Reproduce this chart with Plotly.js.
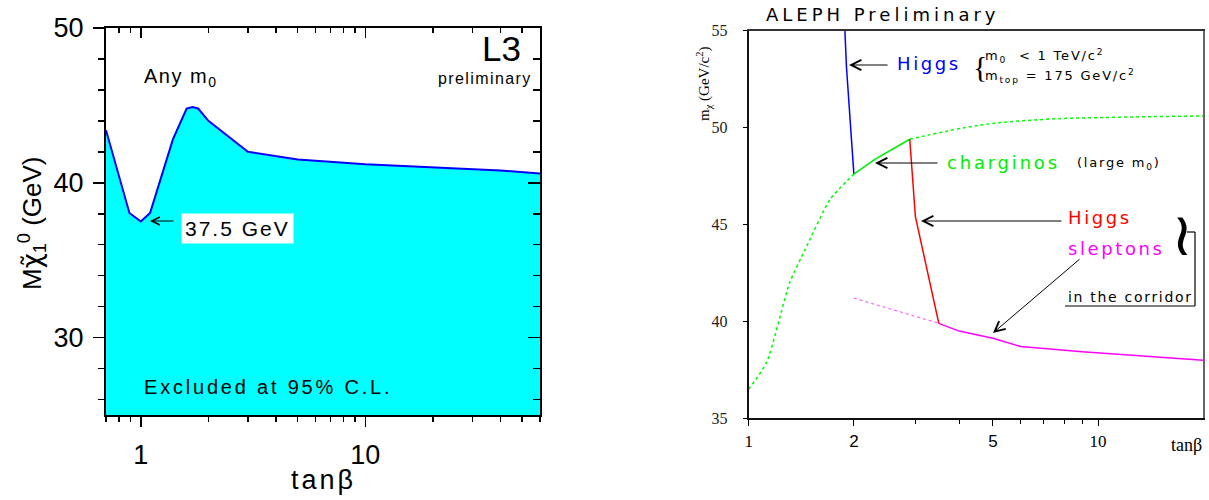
<!DOCTYPE html>
<html><head><meta charset="utf-8">
<script src="https://cdn.plot.ly/plotly-3.0.1.min.js"></script>
<style>html,body{margin:0;padding:0;background:#fff;}</style>
</head><body>
<div id="chart" style="width:1209px;height:500px"></div>
<script>
// ---------- L3 panel data ----------
const l3TanBeta = [0.7, 0.89, 1.0, 1.1, 1.39, 1.6, 1.7, 1.8, 2.0, 3.0, 5.0, 10, 40, 60];
const l3Mass    = [43.4, 38.05, 37.5, 38.05, 42.8, 44.8, 44.9, 44.8, 44.0, 42.0, 41.5, 41.2, 40.8, 40.6];

// ---------- ALEPH panel data ----------
const higgsTopTanBeta = [1.885, 1.905, 2.0];
const higgsTopMass    = [55.0, 53.1, 47.6];
const charginoLowTanBeta = [1.0, 1.126, 1.31, 1.45, 1.71, 2.0];
const charginoLowMass    = [36.5, 37.9, 42.0, 43.7, 46.3, 47.6];
const charginoMidTanBeta = [2.0, 2.29, 2.89];
const charginoMidMass    = [47.6, 48.35, 49.4];
const charginoHighTanBeta = [2.89, 4.6, 7.1, 11, 20];
const charginoHighMass    = [49.4, 50.13, 50.43, 50.53, 50.6];
const higgsCorrTanBeta = [2.89, 3.0, 3.5];
const higgsCorrMass    = [49.4, 45.4, 39.9];
const sleptonLowTanBeta = [2.0, 3.5];
const sleptonLowMass    = [41.2, 39.9];
const sleptonTanBeta = [3.5, 4.0, 5.0, 6.0, 9.0, 20];
const sleptonMass    = [39.9, 39.5, 39.13, 38.7, 38.44, 38.0];

// tick labels
const l3TickVals = [1, 10];
const l3TickText = ['1', '10'];
const l3MinorVals = [0.7, 0.8, 0.9, 2, 3, 4, 5, 6, 7, 8, 9, 20, 30, 40, 50, 60];
const alephTickVals = [1, 2, 5, 10];
const alephTickText = ['1', '<span style="font-family:Liberation Sans">2</span>', '<span style="font-family:Liberation Sans">5</span>', '10'];
const alephMinorVals = [3, 4, 6, 7, 8, 9];
const alephYTicks = [35, 40, 45, 50, 55];

const W = 1209, H = 500;
const fx = p => p / W, fy = p => 1 - p / H;
const SANS = 'Liberation Sans, Arial, sans-serif';
const SERIF = 'Liberation Serif, Times New Roman, serif';
const GEO = 'DejaVu Sans, sans-serif';
const ls = (t, s) => '<span style="letter-spacing:' + s + 'px">' + t + '</span>';

const hidden = {mode: 'lines', line: {width: 0, color: 'rgba(0,0,0,0)'}, opacity: 0, hoverinfo: 'skip'};

const traces = [
  {x: l3TanBeta, y: l3Mass, xaxis: 'x', yaxis: 'y', type: 'scatter', mode: 'lines',
   fill: 'tozeroy', fillcolor: '#00ffff', line: {color: '#0000ff', width: 2}, hoverinfo: 'skip'},
  {x: higgsTopTanBeta, y: higgsTopMass, xaxis: 'x2', yaxis: 'y2', mode: 'lines', line: {color: '#0000ff', width: 1.5}},
  {x: charginoLowTanBeta, y: charginoLowMass, xaxis: 'x2', yaxis: 'y2', mode: 'lines', line: {color: '#00ff00', width: 1.6, dash: 'dot', shape: 'spline', smoothing: 0.6}},
  {x: charginoMidTanBeta, y: charginoMidMass, xaxis: 'x2', yaxis: 'y2', mode: 'lines', line: {color: '#00ee00', width: 1.6}},
  {x: charginoHighTanBeta, y: charginoHighMass, xaxis: 'x2', yaxis: 'y2', mode: 'lines', line: {color: '#00ff00', width: 1.5, dash: '3px,3px', shape: 'spline'}},
  {x: higgsCorrTanBeta, y: higgsCorrMass, xaxis: 'x2', yaxis: 'y2', mode: 'lines', line: {color: '#ff0000', width: 1.5}},
  {x: sleptonLowTanBeta, y: sleptonLowMass, xaxis: 'x2', yaxis: 'y2', mode: 'lines', line: {color: '#ff66ff', width: 1.2, dash: 'dot'}},
  {x: sleptonTanBeta, y: sleptonMass, xaxis: 'x2', yaxis: 'y2', mode: 'lines', line: {color: '#ff00ff', width: 1.5}},
  // invisible traces so the mirror (top / right) axes get drawn
  Object.assign({x: l3TanBeta, y: l3Mass, xaxis: 'x3', yaxis: 'y'}, hidden),
  Object.assign({x: l3TanBeta, y: l3Mass, xaxis: 'x', yaxis: 'y3'}, hidden),
  Object.assign({x: sleptonTanBeta, y: sleptonMass, xaxis: 'x4', yaxis: 'y2'}, hidden),
  Object.assign({x: sleptonTanBeta, y: sleptonMass, xaxis: 'x2', yaxis: 'y4'}, hidden)
];

function txt(text, px, py, opts) {
  return Object.assign({text: text, xref: 'paper', yref: 'paper', x: fx(px), y: fy(py),
    showarrow: false, xanchor: 'left', yanchor: 'middle'}, opts || {});
}
function arrow(tipX, tipY, tailX, tailY, color, size) {
  return {text: '', xref: 'paper', yref: 'paper', x: fx(tipX), y: fy(tipY),
    ax: tailX - tipX, ay: tailY - tipY, axref: 'pixel', ayref: 'pixel',
    showarrow: true, arrowhead: 5, arrowsize: size || 2, arrowwidth: 1, arrowcolor: color || '#000', standoff: 0, startstandoff: 0};
}

const annotations = [
  // L3 panel
  txt(ls('Any m', 1.5) + '<sub>0</sub>', 142, 77, {font: {family: SANS, size: 20, color: '#000'}}),
  txt('L3', 523, 49, {xanchor: 'right', font: {family: SANS, size: 35, color: '#000'}}),
  txt(ls('preliminary', 1.4), 534, 78, {xanchor: 'right', font: {family: SANS, size: 16, color: '#000'}}),
  txt(ls('37.5 GeV', 2), 181, 229, {font: {family: SANS, size: 21, color: '#000'}, bgcolor: '#fff', borderpad: 3}),
  arrow(150, 221, 175, 221, '#000', 1.6),
  txt(ls('Excluded at 95% C.L.', 2.8), 142, 387, {font: {family: SANS, size: 20, color: '#000'}}),
  txt(ls('tanβ', 3), 324, 480, {xanchor: 'center', font: {family: SANS, size: 27, color: '#000'}}),
  txt('M<span style="font-family:DejaVu Sans">χ̃</span><sub>1</sub><sup>0</sup> (GeV)', 32, 223, {xanchor: 'center', textangle: -90, font: {family: SANS, size: 26, color: '#000'}}),
  // ALEPH panel
  txt(ls('ALEPH Preliminary', 4), 764, 14, {font: {family: GEO, size: 18, color: '#000'}}),
  txt('m<sub>χ</sub> (GeV/c<sup>2</sup>)', 704, 84, {xanchor: 'center', textangle: -90, font: {family: SERIF, size: 15, color: '#000'}}),
  txt('tanβ', 1204, 445, {xanchor: 'right', font: {family: SERIF, size: 18, color: '#000'}}),
  txt(ls('Higgs', 2.6), 895, 63, {font: {family: GEO, size: 18, color: '#0000ff'}}),
  txt('{', 971, 66, {font: {family: SERIF, size: 30, color: '#000'}}),
  txt(ls('m<sub>0</sub>  &lt; 1 TeV/c<sup>2</sup>', 1.8), 983, 56, {font: {family: GEO, size: 13, color: '#000'}}),
  txt(ls('m<sub>top</sub> = 175 GeV/c<sup>2</sup>', 1.8), 983, 76, {font: {family: GEO, size: 13, color: '#000'}}),
  arrow(849, 65, 889, 65, '#000', 2),
  txt(ls('charginos', 2.8), 945, 162, {font: {family: GEO, size: 18, color: '#00ee00'}}),
  txt(ls('(large m<sub>0</sub>)', 1.8), 1075, 163, {font: {family: GEO, size: 13, color: '#000'}}),
  arrow(875, 163, 939, 163, '#000', 2),
  txt(ls('Higgs', 2.6), 1066, 218, {font: {family: GEO, size: 18, color: '#ff0000'}}),
  arrow(921, 221, 1063, 221, '#000', 2),
  txt(ls('sleptons', 2.6), 1066, 248, {font: {family: GEO, size: 18, color: '#ff00ff'}}),
  arrow(993, 333, 1081, 258, '#000', 2),
  txt('≀', 1182, 234, {xanchor: 'center', font: {family: GEO, size: 60, color: '#000'}}),
  txt(ls('in the corridor', 1.7), 1066, 297, {font: {family: GEO, size: 14, color: '#000'}})
];

const shapes = [
  {type: 'line', xref: 'paper', yref: 'paper', x0: fx(1065), x1: fx(1195), y0: fy(306), y1: fy(306), line: {color: '#000', width: 1.2}},
  {type: 'line', xref: 'paper', yref: 'paper', x0: fx(1195), x1: fx(1195), y0: fy(232), y1: fy(306), line: {color: '#000', width: 1.2}},
  {type: 'line', xref: 'paper', yref: 'paper', x0: fx(1187), x1: fx(1195), y0: fy(232), y1: fy(232), line: {color: '#000', width: 1.2}}
];

const l3XRange = [Math.log10(0.7), Math.log10(60)];
const alephXRange = [0, Math.log10(20)];

const layout = {
  width: W, height: H,
  margin: {l: 0, r: 0, t: 0, b: 0},
  paper_bgcolor: '#fff', plot_bgcolor: 'rgba(0,0,0,0)',
  showlegend: false,
  xaxis: {domain: [fx(106), fx(540)], anchor: 'y', type: 'log', range: l3XRange,
    showline: true, linecolor: '#000', linewidth: 2, showgrid: false, zeroline: false,
    ticks: 'outside', ticklen: 10, tickwidth: 1.5, tickcolor: '#000',
    tickmode: 'array', tickvals: l3TickVals, ticktext: l3TickText, ticklabelstandoff: 5,
    tickfont: {family: SANS, size: 27, color: '#000'},
    minor: {tickmode: 'array', tickvals: l3MinorVals, ticks: 'outside', ticklen: 5, tickwidth: 1.5, tickcolor: '#000', showgrid: false}},
  xaxis3: {overlaying: 'x', anchor: 'y', side: 'top', type: 'log', range: l3XRange,
    showline: true, linecolor: '#000', linewidth: 2, showgrid: false, zeroline: false,
    ticks: 'inside', ticklen: 10, tickwidth: 1.5, tickcolor: '#000', showticklabels: false,
    tickmode: 'array', tickvals: l3TickVals,
    minor: {tickmode: 'array', tickvals: l3MinorVals, ticks: 'inside', ticklen: 5, tickwidth: 1.5, tickcolor: '#000', showgrid: false}},
  yaxis: {domain: [fy(415), fy(28)], anchor: 'x', range: [25, 50],
    showline: true, linecolor: '#000', linewidth: 2, showgrid: false, zeroline: false,
    ticks: 'outside', ticklen: 11, tickwidth: 1.5, tickcolor: '#000',
    tickmode: 'linear', tick0: 0, dtick: 10, ticklabelstandoff: 4,
    tickfont: {family: SANS, size: 27, color: '#000'},
    minor: {dtick: 2, tick0: 0, ticks: 'outside', ticklen: 6, tickwidth: 1.5, tickcolor: '#000', showgrid: false}},
  yaxis3: {overlaying: 'y', anchor: 'x', side: 'right', range: [25, 50],
    showline: true, linecolor: '#000', linewidth: 2, showgrid: false, zeroline: false,
    ticks: 'inside', ticklen: 12, tickwidth: 1.5, tickcolor: '#000', showticklabels: false,
    tickmode: 'linear', tick0: 0, dtick: 10,
    minor: {dtick: 2, tick0: 0, ticks: 'inside', ticklen: 7, tickwidth: 1.5, tickcolor: '#000', showgrid: false}},

  xaxis2: {domain: [fx(748.7), fx(1203.3)], anchor: 'y2', type: 'log', range: alephXRange,
    showline: true, linecolor: '#111', linewidth: 2, showgrid: false, zeroline: false,
    ticks: 'outside', ticklen: 6, tickwidth: 1, tickcolor: '#000',
    tickmode: 'array', tickvals: alephTickVals, ticktext: alephTickText, ticklabelstandoff: 0,
    tickfont: {family: SERIF, size: 17, color: '#000'},
    minor: {tickmode: 'array', tickvals: alephMinorVals, ticks: 'outside', ticklen: 4, tickwidth: 1, tickcolor: '#000', showgrid: false}},
  xaxis4: {overlaying: 'x2', anchor: 'y2', side: 'top', type: 'log', range: alephXRange,
    showline: true, linecolor: '#333', linewidth: 1.5, showgrid: false, zeroline: false,
    ticks: '', showticklabels: false},
  yaxis2: {domain: [fy(418.3), fy(30.7)], anchor: 'x2', range: [35, 55],
    showline: true, linecolor: '#111', linewidth: 2, showgrid: false, zeroline: false,
    ticks: 'outside', ticklen: 4, tickwidth: 1, tickcolor: '#000',
    tickmode: 'array', tickvals: alephYTicks, ticklabelstandoff: 12,
    tickfont: {family: SERIF, size: 16, color: '#222'}},
  yaxis4: {overlaying: 'y2', anchor: 'x2', side: 'right', range: [35, 55],
    showline: true, linecolor: '#666', linewidth: 2, showgrid: false, zeroline: false,
    ticks: '', showticklabels: false},
  annotations: annotations,
  shapes: shapes
};

Plotly.newPlot('chart', traces, layout, {displayModeBar: false, staticPlot: true});
</script>
</body></html>
